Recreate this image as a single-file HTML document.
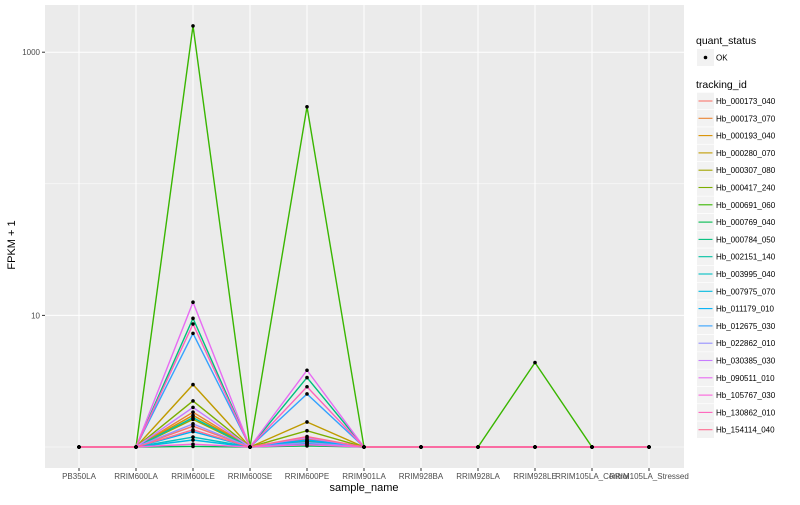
<!DOCTYPE html>
<html><head><meta charset="utf-8"><style>
body{margin:0;background:#fff;font-family:"Liberation Sans",sans-serif;}
svg text{font-family:"Liberation Sans",sans-serif;}
</style></head><body>
<svg id="chart" width="800" height="500" xmlns="http://www.w3.org/2000/svg"></svg>
<script>
const categories=["PB350LA","RRIM600LA","RRIM600LE","RRIM600SE","RRIM600PE","RRIM901LA","RRIM928BA","RRIM928LA","RRIM928LE","RRIM105LA_Control","RRIM105LA_Stressed"];
const seriesNames=["Hb_000173_040","Hb_000173_070","Hb_000193_040","Hb_000280_070","Hb_000307_080","Hb_000417_240","Hb_000691_060","Hb_000769_040","Hb_000784_050","Hb_002151_140","Hb_003995_040","Hb_007975_070","Hb_011179_010","Hb_012675_030","Hb_022862_010","Hb_030385_030","Hb_090511_010","Hb_105767_030","Hb_130862_010","Hb_154114_040"];
const colors=["#F8766D","#EA8331","#D89000","#C09B00","#A3A500","#7CAE00","#39B600","#00BB4E","#00BF7D","#00C1A3","#00BFC4","#00BAE0","#00B0F6","#35A2FF","#9590FF","#C77CFF","#E76BF3","#FA62DB","#FF62BC","#FF6C91"];
// value at RRIM600LE, RRIM600PE, RRIM928LE (others = 1)
const valuesLE=[1.44,1.84,1.74,2.98,1.62,2.24,1585,1.01,9.5,1.67,1.19,1.13,1.31,7.3,1.5,2.0,12.6,1.05,8.6,1.35];
const valuesPE=[1.15,1.1,1.12,1.55,1.08,1.33,385,1.02,3.37,1.1,1.05,1.07,1.13,2.53,1.08,1.18,3.83,1.04,2.87,1.2];
const values928LE=[1,1,1,1,1,1,4.38,1,1,1,1,1,1,1,1,1,1,1,1,1];
const yTicks=[10,1000];
const yMinor=[1,100];

const NS="http://www.w3.org/2000/svg";
const svg=document.getElementById("chart");
const P={l:45,r:684,t:5,b:468};
function x(i){return 79+i*57;}
function y(v){return 447-Math.log10(v)*131.6;}
function el(t,a,p){const e=document.createElementNS(NS,t);for(const k in a)e.setAttribute(k,a[k]);(p||svg).appendChild(e);return e;}

const bg=el("rect",{x:P.l,y:P.t,width:P.r-P.l,height:P.b-P.t,fill:"#EBEBEB"});


yMinor.forEach(v=>{const g=el("line",{x1:P.l,x2:P.r,y1:y(v),y2:y(v),stroke:"#fff","stroke-width":0.5});

});
yTicks.forEach(v=>{const g=el("line",{x1:P.l,x2:P.r,y1:y(v),y2:y(v),stroke:"#fff","stroke-width":1});


const tk=el("line",{x1:P.l-3,x2:P.l,y1:y(v),y2:y(v),stroke:"#333","stroke-width":1});


const t=el("text",{x:P.l-5,y:y(v)+3,"text-anchor":"end","font-size":8,fill:"#4D4D4D"});t.textContent=v;

});
categories.forEach((c,i)=>{const g=el("line",{x1:x(i),x2:x(i),y1:P.t,y2:P.b,stroke:"#fff","stroke-width":1});


const tk=el("line",{x1:x(i),x2:x(i),y1:P.b,y2:P.b+3,stroke:"#333","stroke-width":1});


const t=el("text",{x:x(i),y:P.b+11,"text-anchor":"middle","font-size":8,fill:"#4D4D4D"});t.textContent=c;

});

function seriesVals(s){return categories.map((c,i)=>i===2?valuesLE[s]:i===4?valuesPE[s]:i===8?values928LE[s]:1);}
seriesNames.forEach((n,s)=>{const vs=seriesVals(s);
const pl=el("polyline",{points:vs.map((v,i)=>x(i)+","+y(v)).join(" "),fill:"none",stroke:colors[s],"stroke-width":1.4});

});
seriesNames.forEach((n,s)=>{seriesVals(s).forEach((v,i)=>{const c=el("circle",{cx:x(i),cy:y(v),r:1.8,fill:"#000"});

});});

const yt=el("text",{x:0,y:0,transform:"translate(15,245) rotate(-90)","text-anchor":"middle","font-size":11,fill:"#000"});yt.textContent="FPKM + 1";


const xt=el("text",{x:364,y:491,"text-anchor":"middle","font-size":11,fill:"#000"});xt.textContent="sample_name";



const lt1=el("text",{x:696,y:44,"font-size":10.5,fill:"#000"});lt1.textContent="quant_status";


const kb=el("rect",{x:697,y:49,width:17,height:17,fill:"#F2F2F2"});


const kd=el("circle",{cx:705.5,cy:57.5,r:1.8,fill:"#000"});


const ok=el("text",{x:716,y:60.5,"font-size":8,fill:"#000"});ok.textContent="OK";


const lt2=el("text",{x:696,y:88,"font-size":10.5,fill:"#000"});lt2.textContent="tracking_id";


seriesNames.forEach((n,s)=>{const cy=101+s*17.3;
const g=el("g",{});


el("rect",{x:697,y:cy-8.3,width:17,height:16.6,fill:"#F2F2F2"},g);
el("line",{x1:698.5,x2:712.5,y1:cy,y2:cy,stroke:colors[s],"stroke-width":1.1},g);
const t=el("text",{x:716,y:cy+3,"font-size":8,fill:"#000"},g);t.textContent=n;});
</script>
</body></html>
